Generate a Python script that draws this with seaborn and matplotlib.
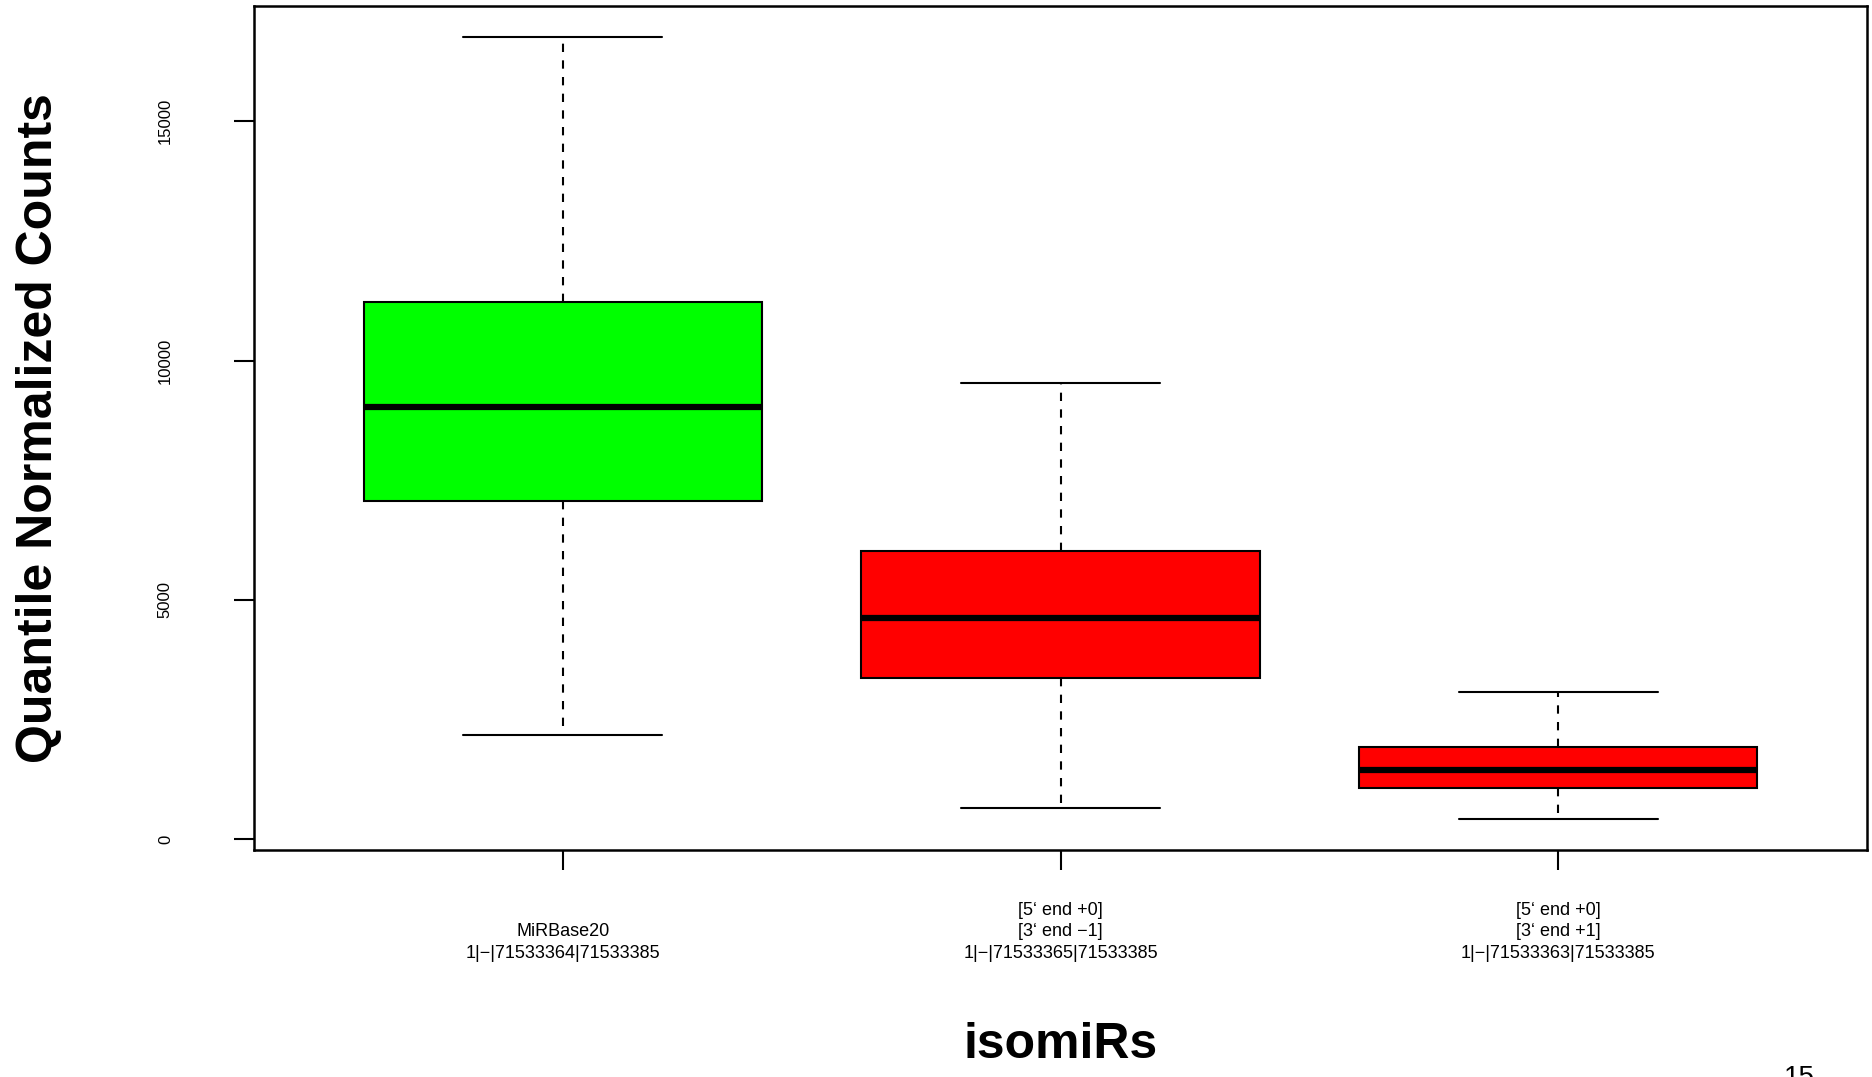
import pandas as pd
import numpy as np
import matplotlib
matplotlib.use("Agg")
import matplotlib.pyplot as plt
import seaborn as sns


# DATA: five-number summary per isomiR
groups = [
    "MiRBase20\n1|\u2212|71533364|71533385",
    "[5\u2018 end +0]\n[3\u2018 end \u22121]\n1|\u2212|71533365|71533385",
    "[5\u2018 end +0]\n[3\u2018 end +1]\n1|\u2212|71533363|71533385",
]
whisker_low = [2170, 648, 424]
q1 = [7057, 3367, 1072]
median = [9027, 4613, 1446]
q3 = [11222, 6010, 1920]
whisker_high = [16758, 9526, 3067]
box_colors = ["#00FF00", "#FF0000", "#FF0000"]

y_ticks = [0, 5000, 10000, 15000]
y_label = "Quantile Normalized Counts"
x_label = "isomiRs"
page_number = "15"


# five points per group reproduce the box statistics exactly
rows = []
for g, lo, a, m, b, hi in zip(groups, whisker_low, q1, median, q3, whisker_high):
    for v in (lo, a, m, b, hi):
        rows.append({"group": g, "value": v})
df = pd.DataFrame(rows)

sns.set_style("white")
plt.rcParams["font.family"] = ["Liberation Sans", "DejaVu Sans"]
plt.rcParams["text.color"] = "black"
plt.rcParams["axes.labelcolor"] = "black"

fig = plt.figure(figsize=(18.72, 10.77), dpi=100)
W, H = 1872, 1077
ax = fig.add_axes([254 / W, 1 - 850 / H, (1867 - 254) / W, (850 - 6) / H])

line_kw = dict(color="black", linewidth=1.5)
sns.boxplot(
    data=df, x="group", y="value", hue="group", order=groups, hue_order=groups,
    palette=box_colors, saturation=1, width=0.8, whis=1.5, legend=False,
    linecolor="black", linewidth=1.5,
    boxprops=dict(edgecolor="black", linewidth=1.5),
    medianprops=dict(color="black", linewidth=4.5),
    whiskerprops=dict(color="black", linewidth=1.5, linestyle=(0, (4, 4))),
    capprops=line_kw,
    ax=ax,
)

# R-style axis ranges (4% padding)
lo, hi = df["value"].min(), df["value"].max()
pad = 0.04 * (hi - lo)
ax.set_ylim(lo - pad, hi + pad)
ax.set_xlim(-0.5 - 0.12, len(groups) - 0.5 + 0.12)

for s in ax.spines.values():
    s.set_visible(True)
    s.set_color("black")
    s.set_linewidth(1.8)

ax.set_yticks(y_ticks)
ax.set_yticklabels([str(t) for t in y_ticks])
ax.set_xticks(range(len(groups)))
ax.set_xticklabels(groups, fontsize=13, linespacing=1.35)
ax.tick_params(axis="y", direction="out", length=14.4, width=1.5, pad=44,
               labelsize=12, left=True, colors="black")
ax.tick_params(axis="x", direction="out", length=14.4, width=1.5, pad=66,
               bottom=True, colors="black")
for lbl in ax.get_yticklabels():
    lbl.set_rotation(90)
    lbl.set_va("center")
    lbl.set_ha("right")
for lbl in ax.get_xticklabels():
    lbl.set_va("bottom")
    lbl.set_multialignment("center")

ax.set_xlabel(x_label, fontsize=36, fontweight="bold", color="black")
ax.xaxis.set_label_coords(0.5, -0.2038)
ax.set_ylabel(y_label, fontsize=36, fontweight="bold", color="black")
ax.yaxis.set_label_coords(-0.119, 0.5)

fig.text(1799 / W, 1 - 1065 / H, page_number, fontsize=20, ha="center", va="top")

fig.savefig("out.png", dpi=100)
